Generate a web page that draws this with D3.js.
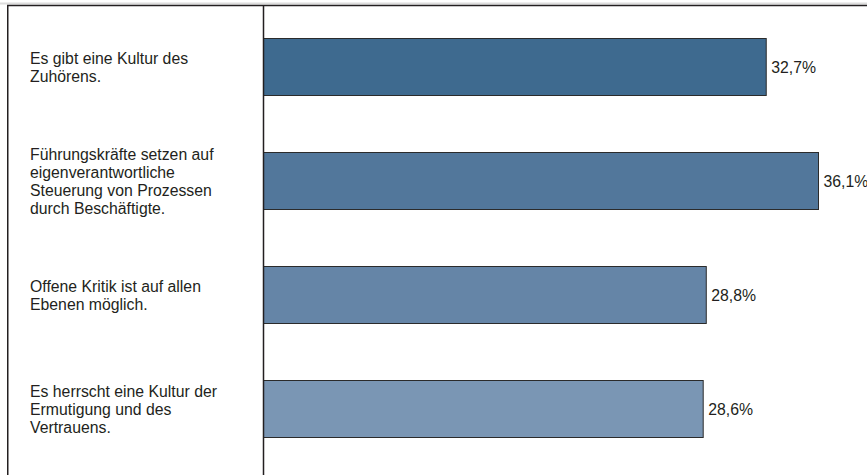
<!DOCTYPE html>
<html>
<head>
<meta charset="utf-8">
<script src="https://cdn.jsdelivr.net/npm/d3@7"></script>
<style>
  html, body { margin: 0; padding: 0; background: #fff; }
  svg { display: block; }
  text { font-family: "Liberation Sans", Arial, sans-serif; fill: #231f20; }
</style>
</head>
<body>
<svg id="chart" width="867" height="475"></svg>
<script>
// Statements (one label line per array entry)
const categories = [
  ["Es gibt eine Kultur des", "Zuhörens."],
  ["Führungskräfte setzen auf", "eigenverantwortliche", "Steuerung von Prozessen", "durch Beschäftigte."],
  ["Offene Kritik ist auf allen", "Ebenen möglich."],
  ["Es herrscht eine Kultur der", "Ermutigung und des", "Vertrauens."]
];
const values = [32.7, 36.1, 28.8, 28.6];
const valueLabels = ["32,7%", "36,1%", "28,8%", "28,6%"];
const barColors = ["#3e6a8f", "#52779b", "#6585a7", "#7a96b4"];

const W = 867, H = 475;
const svg = d3.select("#chart");

const axisX = 263.5;
const x = d3.scaleLinear().domain([0, 36.1]).range([axisX, 818.5]);
const y = d3.scaleBand().domain(d3.range(values.length)).range([10, 466]).paddingInner(0.5).paddingOuter(0.25);

// frame: faint shadow line, dark top and left borders
svg.append("line").attr("x1", 0).attr("x2", W).attr("y1", 3.5).attr("y2", 3.5)
  .attr("stroke", "#dcdcdc").attr("stroke-width", 2);
svg.append("line").attr("x1", 7).attr("x2", W).attr("y1", 5.5).attr("y2", 5.5)
  .attr("stroke", "#231f20").attr("stroke-width", 1.5);
svg.append("line").attr("x1", 7.75).attr("x2", 7.75).attr("y1", 5).attr("y2", H)
  .attr("stroke", "#231f20").attr("stroke-width", 1.5);

// bars
svg.selectAll("rect.bar").data(values).join("rect")
  .attr("class", "bar")
  .attr("x", x(0))
  .attr("y", (d, i) => y(i))
  .attr("width", d => x(d) - x(0))
  .attr("height", y.bandwidth())
  .attr("fill", (d, i) => barColors[i])
  .attr("stroke", "#2b2b2b")
  .attr("stroke-width", 1);

// category axis line
svg.append("line").attr("x1", axisX).attr("x2", axisX).attr("y1", 5).attr("y2", H)
  .attr("stroke", "#231f20").attr("stroke-width", 1.5);

// value labels
svg.selectAll("text.val").data(values).join("text")
  .attr("class", "val")
  .attr("x", d => x(d) + 5)
  .attr("y", (d, i) => y(i) + y.bandwidth() / 2)
  .attr("dy", "0.36em")
  .style("font-size", "15.8px")
  .text((d, i) => valueLabels[i]);

// category labels, vertically centred on each bar
const lineH = 18;
const cat = svg.selectAll("text.cat").data(categories).join("text")
  .attr("class", "cat")
  .style("font-size", "15.8px");
cat.each(function (lines, i) {
  const cy = y(i) + y.bandwidth() / 2;
  d3.select(this).selectAll("tspan").data(lines).join("tspan")
    .attr("x", 30)
    .attr("y", (l, j) => cy + (j - (lines.length - 1) / 2) * lineH)
    .attr("dy", "0.4em")
    .text(l => l);
});
</script>
</body>
</html>
